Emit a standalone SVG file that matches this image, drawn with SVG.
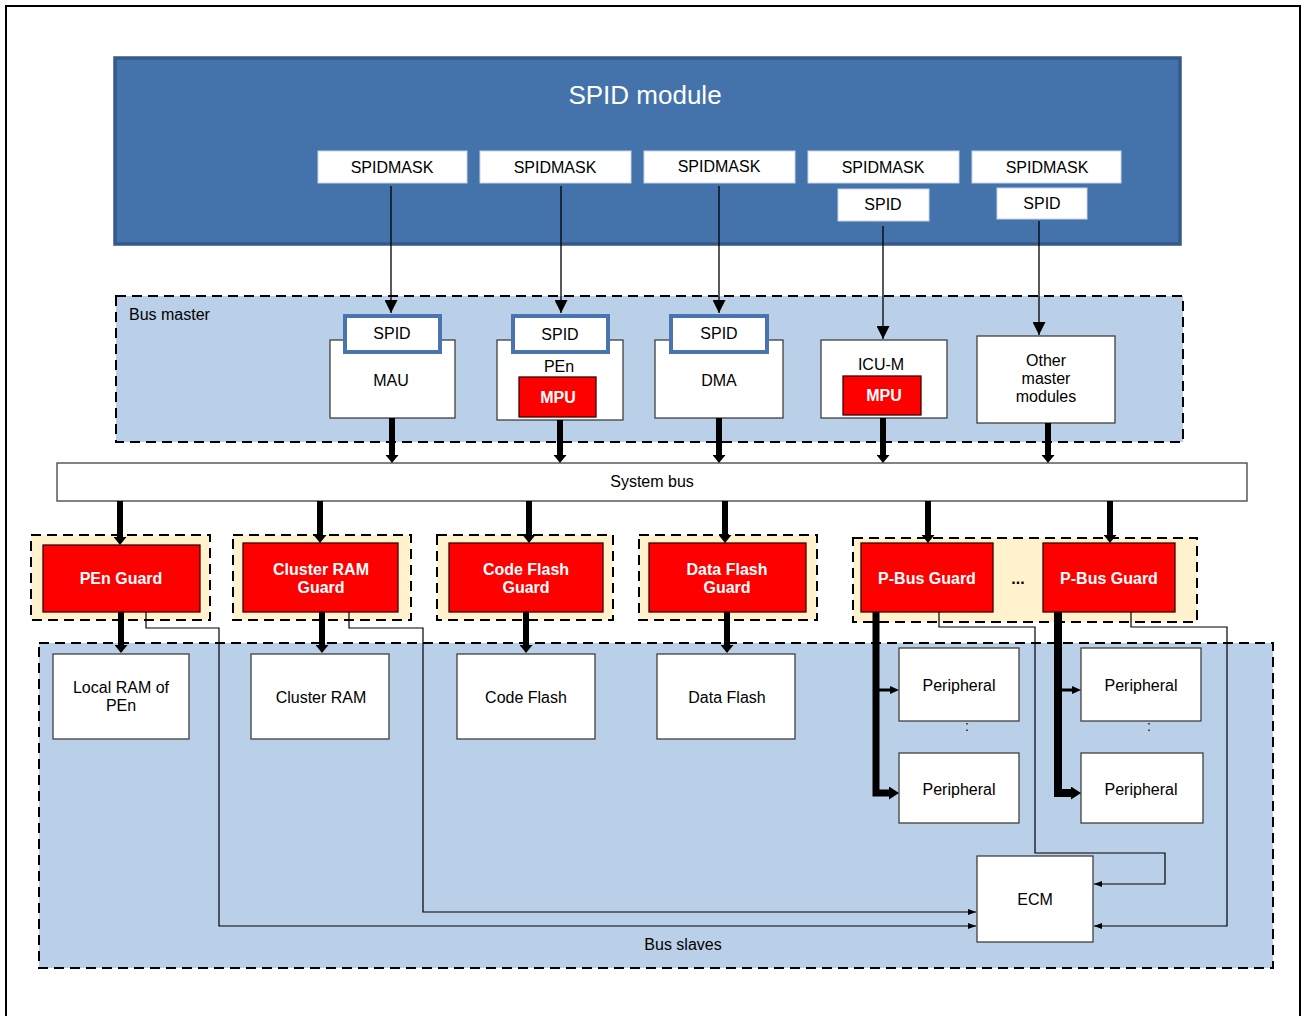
<svg xmlns="http://www.w3.org/2000/svg" width="1301" height="1016" viewBox="0 0 1301 1016">
<style>
text{font-family:"Liberation Sans",Arial,sans-serif;font-size:16px;fill:#000;text-anchor:middle;dominant-baseline:central}
.w{fill:#fff}
.b{font-weight:bold;fill:#fff}
.box{fill:#fff;stroke:#404040;stroke-width:1.3}
.mask{fill:#fff;stroke:#c8d4e6;stroke-width:1}
.spid{fill:#fff;stroke:#4a74b0;stroke-width:4}
.red{fill:#ff0000;stroke:#400000;stroke-width:1.3}
.dash{stroke:#000;stroke-width:2;stroke-dasharray:10 6}
.grd{fill:#fff2cc}
.area{fill:#bacfe8}
.thin{fill:none;stroke:#000;stroke-width:1.3}
.thk{fill:none;stroke:#000;stroke-width:6}
.err{fill:none;stroke:#000;stroke-width:1.2}
</style>
<defs>
<marker id="ah" viewBox="0 0 13 13" refX="13" refY="6.5" markerWidth="13" markerHeight="13" orient="auto" markerUnits="userSpaceOnUse"><path d="M0,0 L13,6.5 L0,13 z"/></marker>
<marker id="ahk" viewBox="0 0 8 13" refX="0" refY="6.5" markerWidth="8" markerHeight="13" orient="auto" markerUnits="userSpaceOnUse"><path d="M0,0 L8,6.5 L0,13 z"/></marker>
<marker id="ahp" viewBox="0 0 10 13" refX="0" refY="6.5" markerWidth="10" markerHeight="13" orient="auto" markerUnits="userSpaceOnUse"><path d="M0,0 L10,6.5 L0,13 z"/></marker>
<marker id="ahs" viewBox="0 0 9 8" refX="0" refY="4" markerWidth="9" markerHeight="8" orient="auto" markerUnits="userSpaceOnUse"><path d="M0,0 L9,4 L0,8 z"/></marker>
<marker id="ahe" viewBox="0 0 8 6" refX="8" refY="3" markerWidth="8" markerHeight="6" orient="auto" markerUnits="userSpaceOnUse"><path d="M0,0 L8,3 L0,6 z"/></marker>
</defs>
<rect x="6" y="6" width="1294" height="1030" fill="#fff" stroke="#000" stroke-width="2"/>

<g id="spid-module">
<rect x="115" y="58" width="1065" height="186" fill="#4472aa" stroke="#35598a" stroke-width="3.5"/>
<text x="645" y="95" class="w" style="font-size:26px">SPID module</text>
</g>
<g id="spidmask1"><rect class="mask" x="318" y="151" width="149" height="32"/><text x="392" y="167">SPIDMASK</text></g>
<g id="spidmask2"><rect class="mask" x="480" y="151" width="151" height="32"/><text x="555" y="167">SPIDMASK</text></g>
<g id="spidmask3"><rect class="mask" x="644" y="151" width="151" height="32"/><text x="719" y="166">SPIDMASK</text></g>
<g id="spidmask4"><rect class="mask" x="808" y="151" width="151" height="32"/><text x="883" y="167">SPIDMASK</text></g>
<g id="spidmask5"><rect class="mask" x="972" y="151" width="149" height="32"/><text x="1047" y="167">SPIDMASK</text></g>
<g id="spid-icu"><rect class="mask" x="838" y="189" width="91" height="32"/><text x="883" y="204">SPID</text></g>
<g id="spid-other"><rect class="mask" x="997" y="188" width="90" height="31"/><text x="1042" y="203">SPID</text></g>

<g id="bus-master">
<rect class="area dash" x="116" y="296" width="1067" height="146"/>
<text x="129" y="314" style="text-anchor:start">Bus master</text>
</g>
<g id="mau">
<rect class="box" x="330" y="340" width="125" height="78"/>
<rect class="spid" x="345" y="316" width="95" height="36"/>
<text x="392" y="333">SPID</text>
<text x="391" y="380">MAU</text>
</g>
<g id="pen">
<rect class="box" x="497" y="340" width="126" height="80"/>
<rect class="spid" x="513" y="316" width="95" height="36"/>
<text x="560" y="334">SPID</text>
<text x="559" y="366">PEn</text>
<rect class="red" x="519" y="377" width="77" height="40"/>
<text x="558" y="397" class="b">MPU</text>
</g>
<g id="dma">
<rect class="box" x="655" y="340" width="128" height="78"/>
<rect class="spid" x="671" y="316" width="96" height="36"/>
<text x="719" y="333">SPID</text>
<text x="719" y="380">DMA</text>
</g>
<g id="icu-m">
<rect class="box" x="821" y="340" width="126" height="78"/>
<text x="881" y="364">ICU-M</text>
<rect class="red" x="843" y="376" width="78" height="39"/>
<text x="884" y="395" class="b">MPU</text>
</g>
<g id="other-masters">
<rect class="box" x="977" y="336" width="138" height="87" stroke-width="1.6"/>
<text x="1046" y="360">Other</text>
<text x="1046" y="378">master</text>
<text x="1046" y="396">modules</text>
</g>

<g id="system-bus">
<rect class="box" x="57" y="463" width="1190" height="38"/>
<text x="652" y="481">System bus</text>
</g>

<g id="bus-slaves">
<rect class="area dash" x="39" y="643" width="1234" height="325"/>
<text x="683" y="944">Bus slaves</text>
</g>

<g id="pen-guard">
<rect class="grd dash" x="31" y="535" width="179" height="85"/>
<rect class="red" x="43" y="545" width="157" height="67"/>
<text x="121" y="578" class="b">PEn Guard</text>
</g>
<g id="cluster-ram-guard">
<rect class="grd dash" x="233" y="535" width="178" height="85"/>
<rect class="red" x="243" y="543" width="155" height="69"/>
<text x="321" y="569" class="b">Cluster RAM</text>
<text x="321" y="587" class="b">Guard</text>
</g>
<g id="code-flash-guard">
<rect class="grd dash" x="437" y="535" width="176" height="85"/>
<rect class="red" x="449" y="543" width="154" height="69"/>
<text x="526" y="569" class="b">Code Flash</text>
<text x="526" y="587" class="b">Guard</text>
</g>
<g id="data-flash-guard">
<rect class="grd dash" x="639" y="535" width="178" height="85"/>
<rect class="red" x="649" y="543" width="157" height="69"/>
<text x="727" y="569" class="b">Data Flash</text>
<text x="727" y="587" class="b">Guard</text>
</g>
<g id="p-bus-guards">
<rect class="grd dash" x="853" y="538" width="344" height="84"/>
<rect class="red" x="861" y="543" width="132" height="69"/>
<text x="927" y="578" class="b">P-Bus Guard</text>
<text x="1018" y="578" style="font-weight:bold">...</text>
<rect class="red" x="1043" y="543" width="132" height="69"/>
<text x="1109" y="578" class="b">P-Bus Guard</text>
</g>

<g id="local-ram"><rect class="box" x="53" y="654" width="136" height="85"/><text x="121" y="687">Local RAM of</text><text x="121" y="705">PEn</text></g>
<g id="cluster-ram"><rect class="box" x="251" y="654" width="138" height="85"/><text x="321" y="697">Cluster RAM</text></g>
<g id="code-flash"><rect class="box" x="457" y="654" width="138" height="85"/><text x="526" y="697">Code Flash</text></g>
<g id="data-flash"><rect class="box" x="657" y="654" width="138" height="85"/><text x="727" y="697">Data Flash</text></g>
<g id="peripheral1"><rect class="box" x="899" y="648" width="120" height="73"/><text x="959" y="685">Peripheral</text></g>
<g id="peripheral2"><rect class="box" x="899" y="753" width="120" height="70"/><text x="959" y="789">Peripheral</text></g>
<g id="peripheral3"><rect class="box" x="1081" y="648" width="120" height="73"/><text x="1141" y="685">Peripheral</text></g>
<g id="peripheral4"><rect class="box" x="1081" y="753" width="122" height="70"/><text x="1141" y="789">Peripheral</text></g>
<text x="967" y="726" style="font-size:14px">:</text>
<text x="1149" y="726" style="font-size:14px">:</text>
<g id="ecm"><rect class="box" x="977" y="856" width="116" height="86"/><text x="1035" y="899">ECM</text></g>

<g id="connectors">
<path class="thin" d="M391,186 V313" marker-end="url(#ah)"/>
<path class="thin" d="M561,186 V313" marker-end="url(#ah)"/>
<path class="thin" d="M719,186 V313" marker-end="url(#ah)"/>
<path class="thin" d="M883,226 V339" marker-end="url(#ah)"/>
<path class="thin" d="M1039,221 V335" marker-end="url(#ah)"/>

<path class="thk" d="M392,418 V455" marker-end="url(#ahk)"/>
<path class="thk" d="M560,420 V455" marker-end="url(#ahk)"/>
<path class="thk" d="M719,418 V455" marker-end="url(#ahk)"/>
<path class="thk" d="M883,418 V455" marker-end="url(#ahk)"/>
<path class="thk" d="M1048,423 V455" marker-end="url(#ahk)"/>

<path class="thk" d="M120,501 V537" marker-end="url(#ahk)"/>
<path class="thk" d="M320,501 V535" marker-end="url(#ahk)"/>
<path class="thk" d="M529,501 V535" marker-end="url(#ahk)"/>
<path class="thk" d="M725,501 V535" marker-end="url(#ahk)"/>
<path class="thk" d="M928,501 V535" marker-end="url(#ahk)"/>
<path class="thk" d="M1110,501 V535" marker-end="url(#ahk)"/>

<path class="thk" d="M121,612 V645" marker-end="url(#ahk)"/>
<path class="thk" d="M322,612 V645" marker-end="url(#ahk)"/>
<path class="thk" d="M526,612 V645" marker-end="url(#ahk)"/>
<path class="thk" d="M727,612 V645" marker-end="url(#ahk)"/>

<path d="M876,612 V793 H889" fill="none" stroke="#000" stroke-width="7" marker-end="url(#ahp)"/>
<path d="M876,690 H890" fill="none" stroke="#000" stroke-width="3" marker-end="url(#ahs)"/>
<path d="M1058,612 V793 H1071" fill="none" stroke="#000" stroke-width="8" marker-end="url(#ahp)"/>
<path d="M1058,690 H1072" fill="none" stroke="#000" stroke-width="3" marker-end="url(#ahs)"/>

<path class="err" d="M146,612 V628 H219 V926 H976" marker-end="url(#ahe)"/>
<path class="err" d="M349,612 V628 H423 V912 H976" marker-end="url(#ahe)"/>
<path class="err" d="M939,612 V627 H1035 V853 H1165 V884 H1094" marker-end="url(#ahe)"/>
<path class="err" d="M1131,612 V627 H1227 V926 H1094" marker-end="url(#ahe)"/>
</g>
</svg>
